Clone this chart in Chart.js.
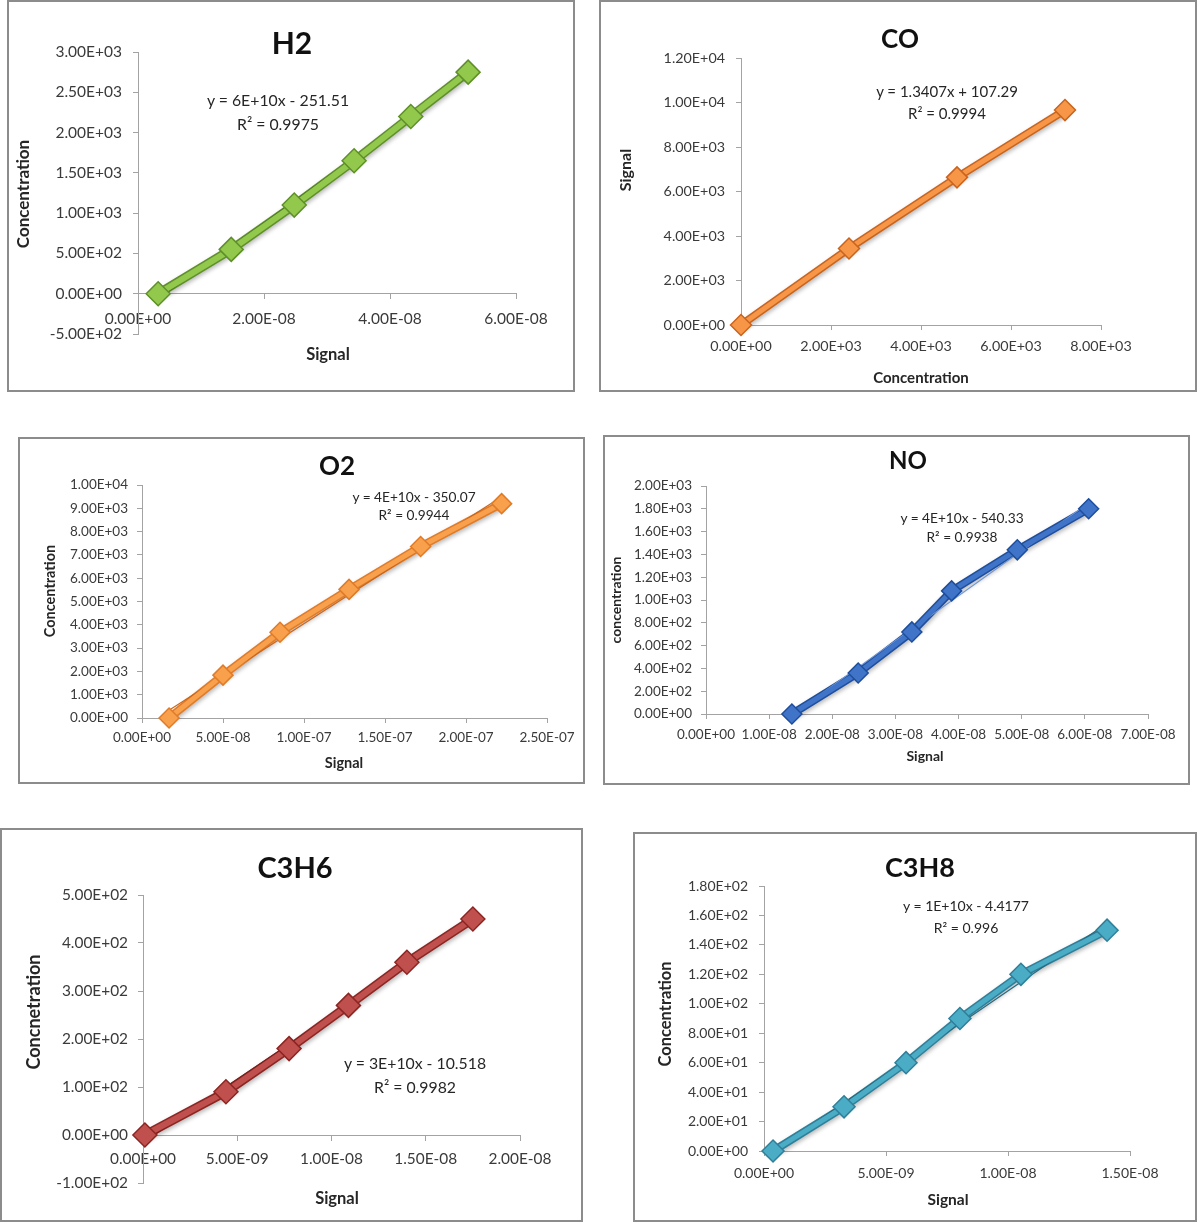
<!DOCTYPE html>
<html>
<head>
<meta charset="utf-8">
<title>Calibration curves</title>
<script src="https://cdn.jsdelivr.net/npm/chart.js@4.4.1/dist/chart.umd.min.js"></script>
<style>
  html, body { margin: 0; padding: 0; background: #ffffff; }
  body { width: 1200px; height: 1222px; position: relative; overflow: hidden; font-family: Lato, "Open Sans", sans-serif; }
  canvas { position: absolute; }
  .frame { position: absolute; box-sizing: border-box; border: 2px solid #8c8c8c; pointer-events: none; }
  .txt { position: absolute; white-space: nowrap; line-height: 1; transform: translate(-50%, -50%); color: #262626; }
  .ttl { font-weight: 700; color: #111; }
  .ax { font-weight: 700; color: #262626; }
  .rot { transform: translate(-50%, -50%) rotate(-90deg); }
</style>
</head>
<body>
<script>
// ---- H2 ----
const h2Signal = [3.2e-9, 1.48e-8, 2.48e-8, 3.43e-8, 4.33e-8, 5.24e-8];
const h2Conc = [0, 550, 1100, 1650, 2200, 2750];
const h2XTicks = [0, 2e-8, 4e-8, 6e-8];
const h2YTicks = [-500, 0, 500, 1000, 1500, 2000, 2500, 3000];
const h2Equation = ["y = 6E+10x - 251.51", "R\u00b2 = 0.9975"];

// ---- CO ----
const coConc = [0, 2400, 4800, 7200];
const coSignal = [0, 3440, 6635, 9660];
const coXTicks = [0, 2000, 4000, 6000, 8000];
const coYTicks = [0, 2000, 4000, 6000, 8000, 10000, 12000];
const coEquation = ["y = 1.3407x + 107.29", "R\u00b2 = 0.9994"];

// ---- O2 ----
const o2Signal = [1.67e-8, 5.0e-8, 8.52e-8, 1.278e-7, 1.72e-7, 2.22e-7];
const o2Conc = [0, 1840, 3680, 5520, 7360, 9200];
const o2XTicks = [0, 5e-8, 1e-7, 1.5e-7, 2e-7, 2.5e-7];
const o2YTicks = [0, 1000, 2000, 3000, 4000, 5000, 6000, 7000, 8000, 9000, 10000];
const o2Equation = ["y = 4E+10x - 350.07", "R\u00b2 = 0.9944"];

// ---- NO ----
const noSignal = [1.36e-8, 2.41e-8, 3.26e-8, 3.89e-8, 4.93e-8, 6.06e-8];
const noConc = [0, 360, 720, 1080, 1440, 1800];
const noXTicks = [0, 1e-8, 2e-8, 3e-8, 4e-8, 5e-8, 6e-8, 7e-8];
const noYTicks = [0, 200, 400, 600, 800, 1000, 1200, 1400, 1600, 1800, 2000];
const noEquation = ["y = 4E+10x - 540.33", "R\u00b2 = 0.9938"];

// ---- C3H6 ----
const c3h6Signal = [1e-10, 4.4e-9, 7.75e-9, 1.09e-8, 1.40e-8, 1.75e-8];
const c3h6Conc = [0, 90, 180, 270, 360, 450];
const c3h6XTicks = [0, 5e-9, 1e-8, 1.5e-8, 2e-8];
const c3h6YTicks = [-100, 0, 100, 200, 300, 400, 500];
const c3h6Equation = ["y = 3E+10x - 10.518", "R\u00b2 = 0.9982"];

// ---- C3H8 ----
const c3h8Signal = [3.7e-10, 3.28e-9, 5.82e-9, 8.03e-9, 1.053e-8, 1.406e-8];
const c3h8Conc = [0, 30, 60, 90, 120, 150];
const c3h8XTicks = [0, 5e-9, 1e-8, 1.5e-8];
const c3h8YTicks = [0, 20, 40, 60, 80, 100, 120, 140, 160, 180];
const c3h8Equation = ["y = 1E+10x - 4.4177", "R\u00b2 = 0.996"];

// Excel-style scientific tick labels: 2.00E-08, -5.00E+02
function sci(v) {
  if (Math.abs(v) < 1e-30) v = 0;
  const parts = v.toExponential(2).split("e");
  const exp = parts[1];
  return parts[0] + "E" + exp[0] + exp.slice(1).padStart(2, "0");
}

// Least-squares linear trend line
function linearFit(xs, ys) {
  const n = xs.length;
  const mx = xs.reduce((a, b) => a + b, 0) / n;
  const my = ys.reduce((a, b) => a + b, 0) / n;
  let sxy = 0, sxx = 0;
  for (let i = 0; i < n; i++) { sxy += (xs[i] - mx) * (ys[i] - my); sxx += (xs[i] - mx) ** 2; }
  const m = sxy / sxx;
  return { m, c: my - m * mx };
}

function addText(str, x, y, size, cls) {
  const d = document.createElement("div");
  d.className = "txt " + (cls || "");
  d.textContent = str;
  d.style.left = x + "px";
  d.style.top = y + "px";
  d.style.fontSize = size + "px";
  document.body.appendChild(d);
}

const softShadow = {
  id: "softShadow",
  beforeDatasetDraw(chart, args) {
    if (args.index !== 0) return;
    const ctx = chart.ctx;
    ctx.save();
    ctx.shadowColor = "rgba(0,0,0,0.28)";
    ctx.shadowBlur = 4;
    ctx.shadowOffsetX = 1;
    ctx.shadowOffsetY = 2;
  },
  afterDatasetDraw(chart, args) {
    if (args.index !== 0) return;
    chart.ctx.restore();
  }
};

function panel(p) {
  const { box, area } = p;
  const cv = document.createElement("canvas");
  cv.width = box.w; cv.height = box.h;
  cv.style.left = box.x + "px"; cv.style.top = box.y + "px";
  cv.style.width = box.w + "px"; cv.style.height = box.h + "px";
  document.body.appendChild(cv);

  const fr = document.createElement("div");
  fr.className = "frame";
  fr.style.left = box.x + "px"; fr.style.top = box.y + "px";
  fr.style.width = box.w + "px"; fr.style.height = box.h + "px";
  document.body.appendChild(fr);

  const l = area.l - box.x, t = area.t - box.y;
  const r = box.x + box.w - area.r, b = box.y + box.h - area.b;

  const pts = p.xs.map((x, i) => ({ x, y: p.ys[i] }));
  const fit = linearFit(p.xs, p.ys);
  const x0 = Math.min(...p.xs), x1 = Math.max(...p.xs);
  const trend = [{ x: x0, y: fit.m * x0 + fit.c }, { x: x1, y: fit.m * x1 + fit.c }];

  const axisColor = "#a3a3a3";
  const tickFont = { family: "Lato, 'Open Sans', sans-serif", size: p.tickSize };

  new Chart(cv, {
    type: "scatter",
    data: {
      datasets: [
        { data: pts, showLine: true, borderColor: p.edge, borderWidth: p.lw + 3, pointRadius: 0, tension: 0, order: 3, clip: false },
        { data: trend, showLine: true, borderColor: p.trend, borderWidth: 1.2, pointRadius: 0, order: 2, clip: false },
        { data: pts, showLine: true, borderColor: p.light, borderWidth: p.lw, tension: 0, order: 1, clip: false,
          pointStyle: "rectRot", pointRadius: p.mr, pointBackgroundColor: p.light,
          pointBorderColor: p.edge, pointBorderWidth: 1.5 }
      ]
    },
    plugins: [softShadow],
    options: {
      responsive: false, animation: false, devicePixelRatio: 1, events: [],
      plugins: { legend: { display: false }, tooltip: { enabled: false } },
      layout: { padding: { left: 0, top: t, right: r, bottom: p.xAtZero ? b : 0 } },
      scales: {
        x: {
          type: "linear",
          position: p.xAtZero ? { y: 0 } : "bottom",
          min: p.xTicks[0], max: p.xTicks[p.xTicks.length - 1],
          afterBuildTicks: s => { s.ticks = p.xTicks.map(v => ({ value: v })); },
          afterFit: s => { if (!p.xAtZero) s.height = b; },
          grid: { display: true, drawOnChartArea: false, drawTicks: true, tickLength: 5, color: axisColor, lineWidth: 1 },
          border: { display: true, color: axisColor, width: 1 },
          ticks: { callback: v => sci(v), font: tickFont, color: "#3a3a3a", padding: p.xPad, autoSkip: false, maxRotation: 0 }
        },
        y: {
          type: "linear", position: "left",
          min: p.yTicks[0], max: p.yTicks[p.yTicks.length - 1],
          afterBuildTicks: s => { s.ticks = p.yTicks.map(v => ({ value: v })); },
          afterFit: s => { s.width = l; },
          grid: { display: true, drawOnChartArea: false, drawTicks: true, tickLength: 5, color: axisColor, lineWidth: 1 },
          border: { display: true, color: axisColor, width: 1 },
          ticks: { callback: v => sci(v), font: tickFont, color: "#3a3a3a", padding: p.yPad, autoSkip: false }
        }
      }
    }
  });

  addText(p.title, p.titlePos[0], p.titlePos[1], p.titleSize, "ttl");
  addText(p.yTitle, p.yTitlePos[0], p.yTitlePos[1], p.axSize[0], "ax rot");
  addText(p.xTitle, p.xTitlePos[0], p.xTitlePos[1], p.axSize[1], "ax");
  addText(p.eq[0], p.eqPos[0], p.eqPos[1], p.eqSize);
  addText(p.eq[1], p.eqPos[0], p.eqPos[2], p.eqSize);
}

panel({
  box: { x: 7, y: 0, w: 568, h: 392 }, area: { l: 138, t: 52, r: 516, b: 334 },
  xs: h2Signal, ys: h2Conc, xTicks: h2XTicks, yTicks: h2YTicks, xAtZero: true,
  light: "#92c84c", edge: "#5f8f2b", trend: "#4a7a1e", lw: 6, mr: 12,
  tickSize: 15.5, xPad: 11, yPad: 11,
  title: "H2", titlePos: [292, 42], titleSize: 30,
  yTitle: "Concentration", yTitlePos: [22, 194], xTitle: "Signal", xTitlePos: [328, 354], axSize: [17, 16.5],
  eq: h2Equation, eqPos: [278, 100, 124], eqSize: 15.8
});

panel({
  box: { x: 599, y: 0, w: 598, h: 392 }, area: { l: 741, t: 58, r: 1101, b: 325 },
  xs: coConc, ys: coSignal, xTicks: coXTicks, yTicks: coYTicks, xAtZero: false,
  light: "#f79646", edge: "#c9641f", trend: "#a9521a", lw: 5, mr: 10.5,
  tickSize: 14.3, xPad: 8, yPad: 11,
  title: "CO", titlePos: [900, 38], titleSize: 26,
  yTitle: "Signal", yTitlePos: [625, 170], xTitle: "Concentration", xTitlePos: [921, 377], axSize: [16, 15],
  eq: coEquation, eqPos: [947, 91, 113], eqSize: 15
});

panel({
  box: { x: 18, y: 437, w: 567, h: 347 }, area: { l: 142, t: 485, r: 547, b: 718 },
  xs: o2Signal, ys: o2Conc, xTicks: o2XTicks, yTicks: o2YTicks, xAtZero: false,
  light: "#f8a04c", edge: "#e07b28", trend: "#c9651c", lw: 5, mr: 10,
  tickSize: 13.5, xPad: 7, yPad: 9,
  title: "O2", titlePos: [337, 465], titleSize: 26,
  yTitle: "Concentration", yTitlePos: [50, 591], xTitle: "Signal", xTitlePos: [344, 763], axSize: [14.5, 14.5],
  eq: o2Equation, eqPos: [414, 497, 515], eqSize: 13.7
});

panel({
  box: { x: 603, y: 435, w: 587, h: 350 }, area: { l: 706, t: 486, r: 1148, b: 714 },
  xs: noSignal, ys: noConc, xTicks: noXTicks, yTicks: noYTicks, xAtZero: false,
  light: "#3f74c9", edge: "#1f4e9c", trend: "#6f95d6", lw: 5, mr: 10,
  tickSize: 13.5, xPad: 8, yPad: 9,
  title: "NO", titlePos: [908, 460], titleSize: 24,
  yTitle: "concentration", yTitlePos: [616, 600], xTitle: "Signal", xTitlePos: [925, 756], axSize: [14, 14],
  eq: noEquation, eqPos: [962, 518, 537], eqSize: 13.7
});

panel({
  box: { x: 0, y: 828, w: 583, h: 394 }, area: { l: 143, t: 895, r: 520, b: 1183 },
  xs: c3h6Signal, ys: c3h6Conc, xTicks: c3h6XTicks, yTicks: c3h6YTicks, xAtZero: true,
  light: "#c0504d", edge: "#8c2623", trend: "#7a1f1d", lw: 6, mr: 12,
  tickSize: 15.4, xPad: 10, yPad: 10,
  title: "C3H6", titlePos: [295, 866], titleSize: 29,
  yTitle: "Concnetration", yTitlePos: [33, 1012], xTitle: "Signal", xTitlePos: [337, 1198], axSize: [18, 16.5],
  eq: c3h6Equation, eqPos: [415, 1063, 1087], eqSize: 15.8
});

panel({
  box: { x: 633, y: 832, w: 564, h: 390 }, area: { l: 764, t: 886, r: 1130, b: 1151 },
  xs: c3h8Signal, ys: c3h8Conc, xTicks: c3h8XTicks, yTicks: c3h8YTicks, xAtZero: false,
  light: "#4bacc6", edge: "#2f7f99", trend: "#256a80", lw: 5, mr: 11,
  tickSize: 14, xPad: 9, yPad: 11,
  title: "C3H8", titlePos: [920, 866], titleSize: 27,
  yTitle: "Concentration", yTitlePos: [665, 1014], xTitle: "Signal", xTitlePos: [948, 1200], axSize: [16.5, 15.5],
  eq: c3h8Equation, eqPos: [966, 906, 928], eqSize: 14
});
</script>
</body>
</html>
